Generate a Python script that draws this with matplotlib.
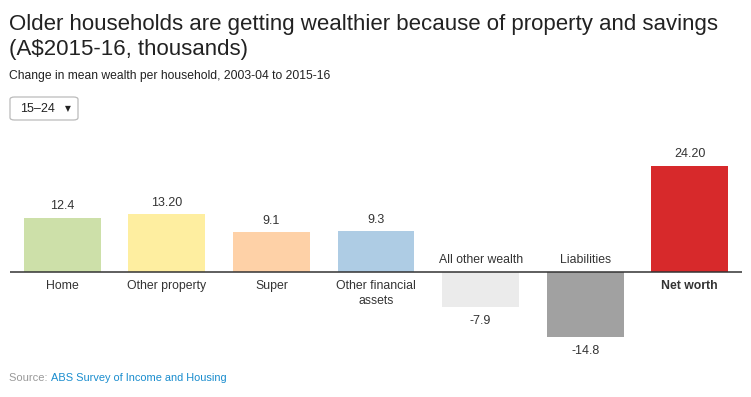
import matplotlib
matplotlib.use("Agg")
import matplotlib.pyplot as plt
from matplotlib.patches import FancyBboxPatch

plt.rcParams['font.family'] = ['Liberation Sans', 'DejaVu Sans']

categories = ["Home", "Other property", "Super", "Other financial\nassets",
              "All other wealth", "Liabilities", "Net worth"]
values = [12.4, 13.2, 9.1, 9.3, -7.9, -14.8, 24.2]
value_labels = ["12.4", "13.20", "9.1", "9.3", "-7.9", "-14.8", "24.20"]
colors = ["#cde0a9", "#feeea0", "#fed1a7", "#aecce4", "#ebebeb", "#a1a1a1", "#d7292b"]

W, H = 751, 397
fig = plt.figure(figsize=(W / 100, H / 100), dpi=100)

# axes in pixel coords
x0, x1 = 10, 742
ytop, ybot = 140, 350
zero_px = 272
ppu = 4.38
ax = fig.add_axes([x0 / W, 1 - ybot / H, (x1 - x0) / W, (ybot - ytop) / H])
ax.set_xlim(-0.5, len(categories) - 0.5)
ax.set_ylim(-(ybot - zero_px) / ppu, (zero_px - ytop) / ppu)
ax.axis('off')

xs = list(range(len(categories)))
ax.bar(xs, values, width=0.735, color=colors, zorder=2)
ax.axhline(0, color="#333333", lw=1.1, zorder=3)

txt = "#333333"
for x, v, lab, cat in zip(xs, values, value_labels, categories):
    bold = cat == "Net worth"
    if v >= 0:
        ax.annotate(lab, (x, v), xytext=(0, 4), textcoords='offset points',
                    ha='center', va='bottom', fontsize=9, color=txt)
        ax.annotate(cat, (x, 0), xytext=(0, -6), textcoords='offset points',
                    ha='center', va='top', fontsize=8.8, color=txt,
                    fontweight='bold' if bold else 'normal', linespacing=1.25)
    else:
        ax.annotate(lab, (x, v), xytext=(0, -6), textcoords='offset points',
                    ha='center', va='top', fontsize=9, color=txt)
        ax.annotate(cat, (x, 0), xytext=(0, 4), textcoords='offset points',
                    ha='center', va='bottom', fontsize=8.8, color=txt)

# Title & subtitle
fig.text(9 / W, 1 - 30 / H, "Older households are getting wealthier because of property and savings",
         fontsize=16, color="#222222", ha='left', va='baseline')
fig.text(9 / W, 1 - 55 / H, "(A$2015-16, thousands)",
         fontsize=16, color="#222222", ha='left', va='baseline')
fig.text(9 / W, 1 - 79 / H, "Change in mean wealth per household, 2003-04 to 2015-16",
         fontsize=8.7, color="#222222", ha='left', va='baseline')

# Dropdown box
box = FancyBboxPatch((10 / W, 1 - 120 / H), 68 / W, 23 / H,
                     boxstyle="round,pad=0,rounding_size=0.006",
                     transform=fig.transFigure, fill=False, edgecolor="#bbbbbb", lw=0.9)
fig.add_artist(box)
fig.text(20 / W, 1 - 112 / H, "15\u201324", fontsize=9, color="#222222",
         ha='left', va='baseline')
fig.text(65 / W, 1 - 111.5 / H, "\u25BC", fontsize=5.5, color="#222222",
         ha='left', va='baseline', family=['DejaVu Sans'])

# Source
t = fig.text(9 / W, 1 - 381 / H, "Source: ", fontsize=8, color="#999999",
             ha='left', va='baseline')
fig.canvas.draw()
bb = t.get_window_extent()
fig.text(bb.x1 / W, 1 - 381 / H, "ABS Survey of Income and Housing", fontsize=7.9,
         color="#1a8dce", ha='left', va='baseline')

fig.savefig("out.png", dpi=100)
